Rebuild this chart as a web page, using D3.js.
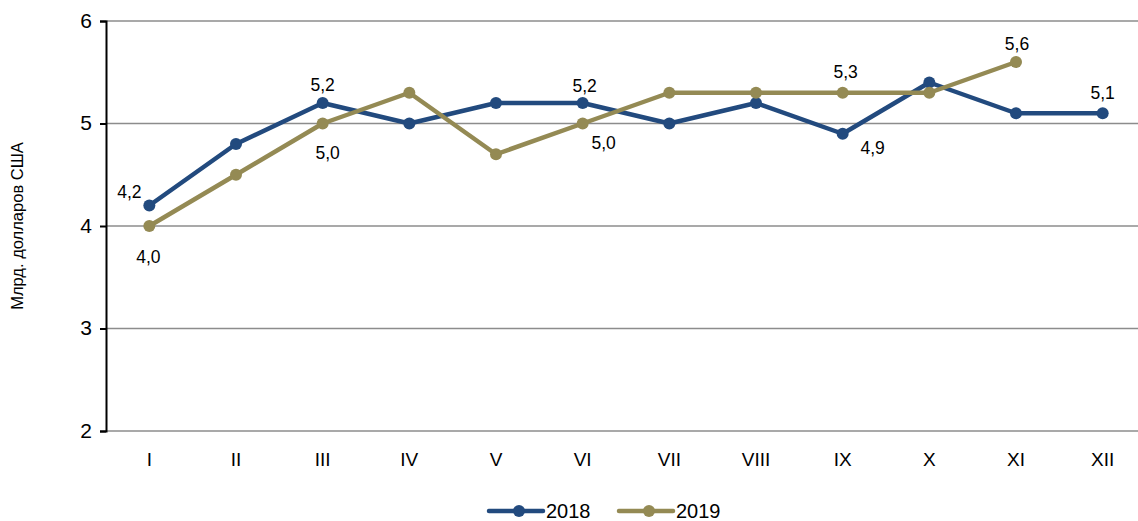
<!DOCTYPE html>
<meta charset="utf-8">
<style>
body { margin: 0; background: #fff; }
text { font-family: Arial, "Liberation Sans", sans-serif; fill: #000; }
</style>
<svg width="1138" height="521"></svg>
<script src="https://d3js.org/d3.v7.min.js"></script>
<script>

var months = ["I","II","III","IV","V","VI","VII","VIII","IX","X","XI","XII"];
var values2018 = [4.2, 4.8, 5.2, 5.0, 5.2, 5.2, 5.0, 5.2, 4.9, 5.4, 5.1, 5.1];
var values2019 = [4.0, 4.5, 5.0, 5.3, 4.7, 5.0, 5.3, 5.3, 5.3, 5.3, 5.6];
var yTicks = [2, 3, 4, 5, 6];

// which points get a value label, and where (dx, dy from the point)
var labels2018 = [[0, -20, -8], [2, 0, -12], [5, 2, -11], [8, 30, 20], [11, 0, -14]];
var labels2019 = [[0, -1, 37], [2, 5, 35], [5, 21, 25], [8, 3, -15], [10, 1, -12]];

var series = [
  {name: "2018", values: values2018, color: "#224a7e", labels: labels2018},
  {name: "2019", values: values2019, color: "#948a54", labels: labels2019}
];

var svg = d3.select("svg");
var plot = {left: 106, right: 1146, top: 21, bottom: 431};

var x = d3.scaleBand().domain(months).range([plot.left, plot.right]);
var y = d3.scaleLinear().domain([2, 6]).range([plot.bottom, plot.top]);
var cx = function(i) { return x(months[i]) + x.bandwidth() / 2; };

// grid
svg.append("g").selectAll("line").data(yTicks).enter().append("line")
    .attr("x1", plot.left).attr("x2", 1138)
    .attr("y1", function(d) { return y(d); })
    .attr("y2", function(d) { return y(d); })
    .attr("stroke", "#8c8c8c").attr("stroke-width", 1.5);

// y axis
var yAxis = d3.axisLeft(y).tickValues(yTicks).tickSize(6).tickPadding(8).tickFormat(d3.format("d"));
var ya = svg.append("g").attr("transform", "translate(" + plot.left + ",0)").call(yAxis);
ya.select(".domain").attr("stroke", "#000").attr("stroke-width", 2);
ya.selectAll(".tick line").attr("stroke", "#000").attr("stroke-width", 2);
ya.selectAll(".tick text").style("font-size", "21px").attr("dy", "0.3em");

// x labels
svg.append("g").selectAll("text").data(months).enter().append("text")
    .attr("x", function(d) { return x(d) + x.bandwidth() / 2; })
    .attr("y", 466)
    .attr("text-anchor", "middle")
    .style("font-size", "19px")
    .text(function(d) { return d; });

// y title
svg.append("text")
    .attr("transform", "translate(23,226) rotate(-90)")
    .attr("text-anchor", "middle")
    .style("font-size", "16.5px")
    .text("Млрд. долларов США");

var line = d3.line()
    .x(function(d, i) { return cx(i); })
    .y(function(d) { return y(d); });

series.forEach(function(s) {
  var g = svg.append("g");
  g.append("path")
      .datum(s.values)
      .attr("d", line)
      .attr("fill", "none")
      .attr("stroke", s.color)
      .attr("stroke-width", 4.5)
      .attr("stroke-linejoin", "round");
  g.selectAll("circle").data(s.values).enter().append("circle")
      .attr("cx", function(d, i) { return cx(i); })
      .attr("cy", function(d) { return y(d); })
      .attr("r", 6)
      .attr("fill", s.color);
});

var fmt = function(v) { return d3.format(".1f")(v).replace(".", ","); };
series.forEach(function(s) {
  svg.append("g").selectAll("text").data(s.labels).enter().append("text")
      .attr("x", function(d) { return cx(d[0]) + d[1]; })
      .attr("y", function(d) { return y(s.values[d[0]]) + d[2]; })
      .attr("text-anchor", "middle")
      .style("font-size", "17.5px")
      .text(function(d) { return fmt(s.values[d[0]]); });
});

// legend
var legend = svg.append("g").selectAll("g").data(series).enter().append("g")
    .attr("transform", function(d, i) { return "translate(" + (489 + i * 130) + ",511)"; });
legend.append("line")
    .attr("x1", 0).attr("x2", 54).attr("y1", 0).attr("y2", 0)
    .attr("stroke", function(d) { return d.color; })
    .attr("stroke-width", 4.5).attr("stroke-linecap", "round");
legend.append("circle")
    .attr("cx", 30).attr("cy", 0).attr("r", 6)
    .attr("fill", function(d) { return d.color; });
legend.append("text")
    .attr("x", 57).attr("y", 7)
    .style("font-size", "20px")
    .text(function(d) { return d.name; });

</script>
